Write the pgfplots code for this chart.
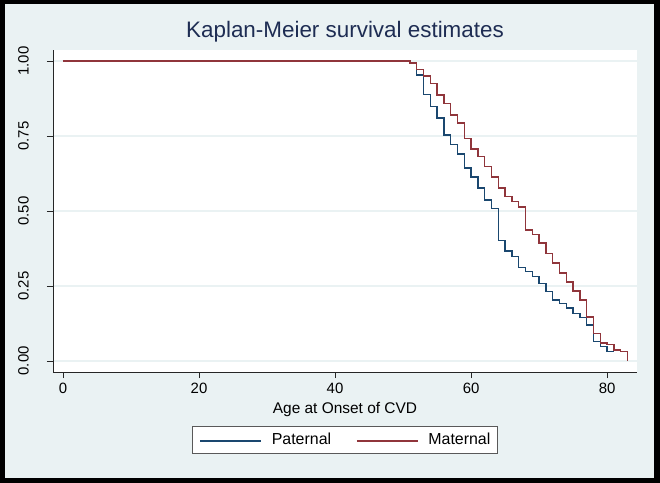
\documentclass[border=0pt]{standalone}
\usepackage{fontspec}
\setmainfont{Liberation Sans}
\usepackage{pgfplots}
\pgfplotsset{compat=1.18}
\definecolor{stnavy}{RGB}{26,71,111}
\definecolor{stmaroon}{RGB}{144,53,59}
\definecolor{stbg}{RGB}{234,242,243}
\definecolor{sttitle}{RGB}{30,45,83}
\definecolor{stgrid}{RGB}{234,242,243}

\begin{document}
\begin{tikzpicture}
% frame: pixel (px,py) -> (px-53, 372-py) in bp
\fill[black] (-53bp,-111bp) rectangle (607bp,372bp);
\fill[stbg] (-48bp,-106bp) rectangle (601bp,368bp);
\useasboundingbox (-53bp,-111bp) rectangle (607bp,372bp);
\begin{axis}[
  at={(0,0)}, anchor=south west,
  scale only axis, width=584bp, height=322bp,
  xmin=-1.47, xmax=84.4, ymin=-0.037, ymax=1.037,
  axis background/.style={fill=white},
  axis x line*=bottom, axis y line*=left,
  axis line style={black!85, line width=0.8bp},
  major tick style={black!85, line width=0.8bp},
  major tick length=6bp, tick align=outside,
  xtick={0,20,40,60,80},
  ytick={0,0.25,0.5,0.75,1},
  ymajorgrids, grid style={stgrid, line width=1.2bp},
  tick label style={font=\fontsize{15}{18}\selectfont},
  /pgf/number format/assume math mode=true,
  yticklabel style={rotate=90, anchor=south, inner sep=0pt,
    /pgf/number format/.cd, fixed, fixed zerofill, precision=2},
  yticklabel shift=18bp,
  xticklabel style={anchor=north, inner sep=0pt},
  xticklabel shift=5bp,
  title={Kaplan-Meier survival estimates},
  title style={font=\fontsize{22.5}{26}\selectfont, text=sttitle,
    at={(axis description cs:0.5,1)}, anchor=base, yshift=6.5bp},
  xlabel={Age at Onset of CVD},
  xlabel style={font=\fontsize{15.5}{18}\selectfont,
    at={(axis description cs:0.5,0)}, anchor=base, yshift=-41bp},
  legend columns=2,
  legend style={at={(0.5,-0.2096)}, anchor=center, draw=black!65,
    line width=0.6bp, fill=white, inner xsep=7bp, inner ysep=7bp,
    font=\fontsize{16}{19}\selectfont,
    nodes={inner sep=0pt, anchor=base west},
    /tikz/every odd column/.style={column sep=10bp},
    /tikz/every even column/.style={column sep=25bp}},
  legend image code/.code={\draw[#1, line width=1.2bp] (0bp,0.35em) -- (61bp,0.35em);},
]
\addplot[const plot, stnavy, line width=1.5bp] table {
x y
0 1
51 0.993
52 0.953
53 0.889
54 0.848
55 0.811
56 0.753
57 0.722
58 0.690
59 0.643
60 0.614
61 0.576
62 0.537
63 0.509
64 0.401
65 0.367
66 0.348
67 0.312
68 0.298
69 0.281
70 0.259
71 0.231
72 0.203
73 0.192
74 0.176
75 0.158
76 0.145
77 0.120
78 0.064
79 0.048
80 0.031
81 0.031
};
\addlegendentry{Paternal}
\addplot[const plot, stmaroon, line width=1.5bp] table {
x y
0 1
51 0.993
52 0.972
53 0.950
54 0.926
55 0.887
56 0.859
57 0.820
58 0.794
59 0.742
60 0.706
61 0.681
62 0.648
63 0.614
64 0.576
65 0.548
66 0.531
67 0.514
68 0.437
69 0.422
70 0.394
71 0.359
72 0.326
73 0.294
74 0.264
75 0.234
76 0.203
77 0.146
78 0.092
79 0.059
80 0.055
81 0.037
82 0.031
83 0.000
};
\addlegendentry{Maternal}
\end{axis}
\end{tikzpicture}
\end{document}
